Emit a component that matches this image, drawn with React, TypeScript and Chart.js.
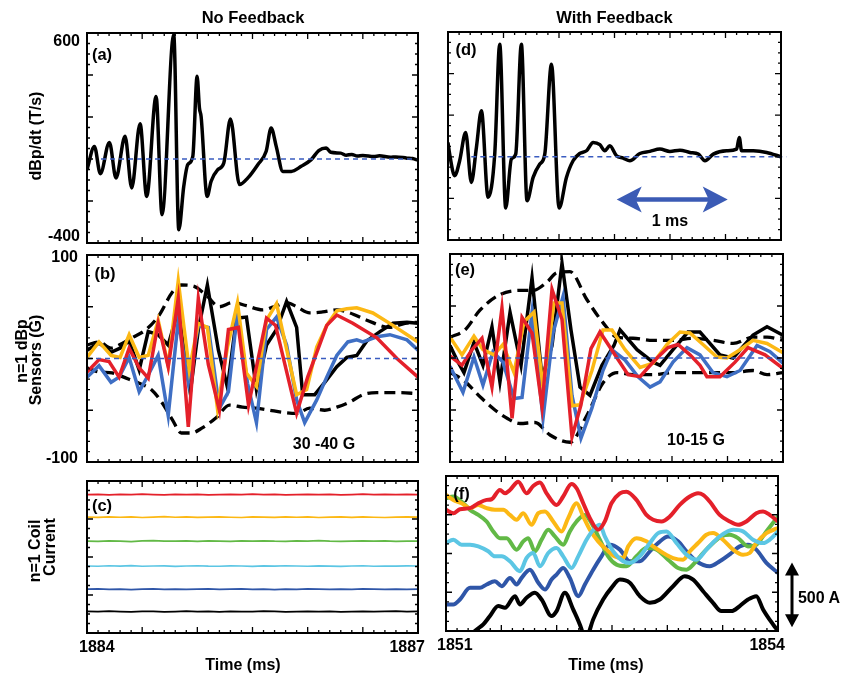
import React, { useEffect, useRef } from 'react';
import { Chart, registerables } from 'chart.js';

Chart.register(...registerables);

const W = 842;
const H = 679;
const FONT = '"Liberation Sans", Arial, Helvetica, sans-serif';

const RED = '#e4202a';
const YELLOW = '#fcb814';
const BLUE = '#3f6fc4';
const GREEN = '#62b946';
const CYAN = '#5cc6e4';
const DKBLUE = '#2f56a8';
const ZERO_BLUE = '#3a5cc0';
const ARROW_BLUE = '#3b5bb5';

// ---------- Tick labels ----------
const LEFT_TIME_TICKS = ['1884', '1887'];
const RIGHT_TIME_TICKS = ['1851', '1854'];
const DBDT_TICKS = ['600', '-400'];
const SENSOR_TICKS = ['100', '-100'];

// ---------- Panel (a): dBp/dt, no feedback ----------
const A_T = [1884.000, 1884.067, 1884.121, 1884.203, 1884.263, 1884.345, 1884.405, 1884.481, 1884.541, 1884.626, 1884.680, 1884.786, 1884.832, 1884.877, 1884.913, 1884.959, 1884.998, 1885.019, 1885.034, 1885.089, 1885.125, 1885.185, 1885.240, 1885.300, 1885.382, 1885.458, 1885.548, 1885.624, 1885.669, 1885.715, 1885.775, 1885.851, 1885.941, 1886.032, 1886.100, 1886.168, 1886.210, 1886.300, 1886.350, 1886.400, 1886.450, 1886.500, 1886.600, 1886.650, 1886.750, 1886.800, 1886.900, 1886.950, 1887.000];
const A_V = [-51, 60, -70, 79, -90, 108, -138, 168, -178, 298, -265, 592, -337, -130, -27, 13, 394, 243, 203, -178, -106, -51, -19, 190, -122, -90, -27, 37, 148, 60, -59, -59, -35, -3, 40, 52, 32, 28, 18, 22, 14, 17, 12, 15, 8, 10, 4, 2, -6];

// ---------- Panel (d): dBp/dt, with feedback ----------
const D_T = [1851.000, 1851.015, 1851.060, 1851.105, 1851.159, 1851.210, 1851.256, 1851.301, 1851.361, 1851.421, 1851.466, 1851.520, 1851.571, 1851.610, 1851.661, 1851.712, 1851.767, 1851.827, 1851.872, 1851.932, 1852.001, 1852.067, 1852.127, 1852.187, 1852.248, 1852.308, 1852.368, 1852.413, 1852.458, 1852.518, 1852.578, 1852.638, 1852.728, 1852.819, 1852.909, 1852.999, 1853.089, 1853.179, 1853.255, 1853.315, 1853.390, 1853.510, 1853.600, 1853.624, 1853.645, 1853.751, 1853.871, 1854.000];
const D_V = [69, 13, -91, -19, 117, -123, 45, 221, -195, 13, 541, -246, -11, 13, 541, -211, -99, -35, 13, 445, -246, -99, -19, 16, 29, 69, 58, 29, 53, 5, -6, -19, 16, 26, 37, 26, 32, 21, 13, -19, 13, 29, 37, 93, 29, 29, 21, 0];
const MS_ARROW_T = [1852.52, 1853.52];
const MS_ARROW_V = -205;

// ---------- Panel (b): sensors, no feedback ----------
const B_RED_T = [1884.000, 1884.109, 1884.200, 1884.291, 1884.382, 1884.473, 1884.555, 1884.645, 1884.736, 1884.827, 1884.918, 1885.009, 1885.100, 1885.200, 1885.282, 1885.373, 1885.464, 1885.627, 1885.709, 1885.900, 1886.000, 1886.173, 1886.264, 1886.409, 1886.627, 1886.809, 1887.000];
const B_RED_V = [-13, -1, -3, -18, 10, -9, -19, 34, -8, 58, -66, 58, -6, -50, 28, 30, -45, 39, 32, -53, -18, 32, 42, 34, 20, 0, -18];
const B_YEL_T = [1884.000, 1884.109, 1884.218, 1884.300, 1884.382, 1884.473, 1884.555, 1884.645, 1884.736, 1884.827, 1884.927, 1885.009, 1885.091, 1885.182, 1885.273, 1885.364, 1885.445, 1885.536, 1885.627, 1885.718, 1885.900, 1885.991, 1886.082, 1886.173, 1886.264, 1886.355, 1886.445, 1886.591, 1886.773, 1887.000];
const B_YEL_V = [1, 16, 3, 1, 23, 1, 3, 37, -7, 75, -11, 34, 30, -48, 11, 54, -14, -27, 37, 53, -35, -30, 11, 32, 46, 48, 49, 44, 32, 16];
const B_BLK_T = [1884.000, 1884.109, 1884.218, 1884.300, 1884.382, 1884.473, 1884.555, 1884.645, 1884.736, 1884.827, 1884.936, 1885.009, 1885.091, 1885.191, 1885.273, 1885.355, 1885.445, 1885.536, 1885.627, 1885.718, 1885.809, 1885.900, 1885.955, 1886.064, 1886.155, 1886.264, 1886.355, 1886.445, 1886.536, 1886.655, 1886.773, 1886.900, 1887.000];
const B_BLK_V = [8, 15, 6, 10, 17, -11, 26, 23, 13, 47, -33, 28, 71, 8, -28, 39, 40, -30, 13, 28, 55, 30, -35, -35, -23, -8, 1, 3, 17, 26, 34, 35, 34];
const B_BLU_T = [1884.000, 1884.109, 1884.218, 1884.291, 1884.382, 1884.473, 1884.555, 1884.645, 1884.736, 1884.827, 1884.918, 1885.009, 1885.100, 1885.200, 1885.282, 1885.364, 1885.455, 1885.536, 1885.627, 1885.718, 1885.809, 1885.900, 1885.973, 1886.082, 1886.173, 1886.264, 1886.364, 1886.445, 1886.500, 1886.627, 1886.745, 1886.900, 1887.000];
const B_BLU_V = [-18, -7, -23, -18, 1, -32, -16, 3, -55, 37, -23, 32, 30, -48, -32, 45, -24, -62, 28, 40, 13, -40, -62, -40, -18, 3, 16, 18, 16, 21, 23, 18, 8];
const B_UP_T = [1884.000, 1884.109, 1884.218, 1884.291, 1884.409, 1884.536, 1884.655, 1884.773, 1884.855, 1884.964, 1885.082, 1885.200, 1885.318, 1885.445, 1885.591, 1885.718, 1885.809, 1885.900, 1886.018, 1886.136, 1886.264, 1886.382, 1886.536, 1886.745, 1886.882, 1887.000];
const B_UP_V = [13, 16, 10, 13, 20, 28, 42, 64, 71, 70, 61, 50, 54, 51, 47, 51, 54, 50, 44, 45, 47, 44, 37, 30, 34, 35];
const B_LO_T = [1884.000, 1884.109, 1884.227, 1884.355, 1884.473, 1884.582, 1884.682, 1884.773, 1884.855, 1884.945, 1885.045, 1885.173, 1885.291, 1885.409, 1885.536, 1885.655, 1885.773, 1885.900, 1886.018, 1886.155, 1886.264, 1886.382, 1886.500, 1886.627, 1886.836, 1887.000];
const B_LO_V = [-9, -13, -14, -19, -24, -30, -43, -59, -72, -72, -67, -57, -45, -47, -48, -50, -52, -53, -48, -50, -47, -42, -35, -33, -33, -34];

// ---------- Panel (e): sensors, with feedback ----------
const E_BLK_T = [1851.000, 1851.063, 1851.126, 1851.216, 1851.297, 1851.378, 1851.450, 1851.541, 1851.640, 1851.739, 1851.829, 1851.919, 1852.009, 1852.090, 1852.171, 1852.261, 1852.369, 1852.477, 1852.532, 1852.685, 1852.829, 1852.892, 1853.009, 1853.144, 1853.252, 1853.432, 1853.550, 1853.730, 1853.856, 1854.000];
const E_BLK_V = [12, -2, -14, 15, -7, 30, -23, 44, -7, 77, -19, 12, 91, 27, -28, -36, -7, 12, 27, 8, -4, -7, 8, 25, 25, 3, 0, 22, 30, 22];
const E_UP_T = [1851.000, 1851.135, 1851.270, 1851.450, 1851.631, 1851.748, 1851.874, 1851.964, 1852.081, 1852.234, 1852.378, 1852.505, 1852.649, 1852.829, 1853.009, 1853.189, 1853.369, 1853.550, 1853.730, 1853.856, 1854.000];
const E_UP_V = [20, 27, 46, 61, 65, 65, 73, 82, 83, 56, 34, 20, 19, 17, 17, 19, 17, 14, 20, 20, 17];
const E_LO_T = [1851.000, 1851.117, 1851.288, 1851.405, 1851.514, 1851.631, 1851.766, 1851.901, 1852.081, 1852.234, 1852.378, 1852.505, 1852.649, 1852.829, 1853.009, 1853.189, 1853.369, 1853.550, 1853.730, 1853.856, 1854.000];
const E_LO_V = [-14, -21, -39, -50, -58, -63, -62, -74, -81, -55, -24, -14, -16, -16, -14, -14, -14, -14, -12, -16, -14];
const E_YEL_T = [1851.000, 1851.108, 1851.216, 1851.297, 1851.396, 1851.477, 1851.577, 1851.667, 1851.757, 1851.838, 1851.937, 1852.009, 1852.099, 1852.171, 1852.279, 1852.378, 1852.459, 1852.577, 1852.712, 1852.829, 1852.955, 1853.072, 1853.162, 1853.279, 1853.405, 1853.495, 1853.613, 1853.730, 1853.856, 1854.000];
const E_YEL_V = [20, 3, 21, 8, 3, 13, -14, 35, 44, -28, 53, 53, -46, -45, -12, 27, 27, 8, -9, -5, 13, 25, 24, 13, 1, 0, 8, 17, 14, 5];
const E_RED_T = [1851.000, 1851.108, 1851.198, 1851.288, 1851.378, 1851.468, 1851.559, 1851.649, 1851.739, 1851.829, 1851.919, 1852.009, 1852.099, 1852.180, 1852.270, 1852.351, 1852.505, 1852.604, 1852.712, 1852.847, 1852.964, 1853.054, 1853.162, 1853.252, 1853.315, 1853.432, 1853.568, 1853.685, 1853.838, 1854.000];
const E_RED_V = [2, -7, 8, 19, -28, 48, -58, 39, 24, -47, 66, 37, -76, -45, 9, 25, 0, -16, -18, -2, 10, 13, 3, -7, -18, -18, -4, 10, 3, -10];
const E_BLU_T = [1851.000, 1851.117, 1851.216, 1851.297, 1851.387, 1851.477, 1851.577, 1851.649, 1851.739, 1851.838, 1851.928, 1852.018, 1852.099, 1852.180, 1852.279, 1852.378, 1852.459, 1852.577, 1852.694, 1852.802, 1852.892, 1853.009, 1853.135, 1853.252, 1853.369, 1853.495, 1853.613, 1853.766, 1853.883, 1854.000];
const E_BLU_V = [-8, -33, 1, -26, 6, -4, -39, -38, 44, -58, 24, 59, -36, -77, -48, -12, 8, -2, -18, -28, -23, -4, 10, 3, -14, -18, -12, 12, 6, -5];

// ---------- Panel (c): coil currents, no feedback (A, offset traces) ----------
const C_T = [1884.0, 1884.1, 1884.2, 1884.3, 1884.4, 1884.5, 1884.6, 1884.7, 1884.8, 1884.9, 1885.0, 1885.1, 1885.2, 1885.3, 1885.4, 1885.5, 1885.6, 1885.7, 1885.8, 1885.9, 1886.0, 1886.1, 1886.2, 1886.3, 1886.4, 1886.5, 1886.6, 1886.7, 1886.8, 1886.9, 1887.0];
const C_RED_V = [1093, 1095, 1090, 1094, 1092, 1096, 1093, 1091, 1095, 1093, 1094, 1090, 1092, 1095, 1093, 1097, 1092, 1094, 1091, 1093, 1095, 1092, 1094, 1090, 1093, 1096, 1092, 1094, 1093, 1095, 1093];
const C_YEL_V = [915, 913, 917, 914, 916, 912, 915, 918, 914, 916, 913, 915, 917, 914, 912, 916, 915, 913, 917, 914, 916, 912, 915, 917, 913, 916, 914, 912, 915, 917, 915];
const C_GRN_V = [726, 724, 728, 725, 722, 727, 729, 725, 726, 728, 724, 727, 725, 723, 727, 726, 728, 725, 724, 727, 726, 729, 725, 723, 726, 728, 725, 727, 724, 726, 726];
const C_CYN_V = [529, 527, 531, 528, 532, 527, 529, 530, 526, 529, 531, 528, 527, 530, 529, 526, 530, 528, 531, 529, 527, 530, 528, 526, 529, 531, 527, 529, 528, 530, 529];
const C_BLU_V = [346, 348, 344, 347, 343, 346, 349, 345, 347, 344, 346, 348, 345, 347, 349, 344, 346, 343, 347, 345, 348, 346, 344, 347, 345, 349, 346, 344, 347, 345, 346];
const C_BLK_V = [170, 168, 172, 169, 167, 171, 170, 166, 169, 172, 168, 170, 167, 171, 169, 168, 172, 170, 167, 169, 171, 168, 170, 166, 169, 171, 168, 170, 172, 169, 170];

// ---------- Panel (f): coil currents, with feedback ----------
const F_RED_T = [1851.000, 1851.066, 1851.126, 1851.217, 1851.292, 1851.367, 1851.412, 1851.487, 1851.533, 1851.578, 1851.653, 1851.728, 1851.788, 1851.849, 1851.909, 1851.999, 1852.059, 1852.134, 1852.180, 1852.240, 1852.300, 1852.375, 1852.435, 1852.495, 1852.571, 1852.631, 1852.721, 1852.811, 1852.872, 1852.947, 1853.022, 1853.112, 1853.203, 1853.278, 1853.323, 1853.383, 1853.473, 1853.564, 1853.639, 1853.714, 1853.804, 1853.865, 1853.925, 1854.000];
const F_RED_V = [938, 912, 943, 951, 989, 1015, 1020, 1092, 1066, 1092, 1156, 1066, 1123, 1149, 1066, 976, 1041, 1138, 1105, 989, 874, 784, 848, 989, 1066, 1079, 1015, 899, 861, 848, 886, 976, 1041, 1066, 1054, 1002, 899, 848, 822, 848, 912, 925, 899, 848];
const F_YEL_T = [1851.000, 1851.066, 1851.141, 1851.217, 1851.292, 1851.367, 1851.442, 1851.518, 1851.578, 1851.638, 1851.698, 1851.773, 1851.834, 1851.894, 1851.969, 1852.044, 1852.104, 1852.180, 1852.240, 1852.300, 1852.375, 1852.450, 1852.526, 1852.601, 1852.646, 1852.721, 1852.811, 1852.872, 1852.962, 1853.052, 1853.142, 1853.203, 1853.278, 1853.353, 1853.413, 1853.503, 1853.594, 1853.684, 1853.744, 1853.804, 1853.895, 1854.000];
const F_YEL_V = [1054, 1015, 989, 951, 976, 951, 938, 938, 899, 861, 912, 822, 912, 925, 848, 771, 874, 989, 886, 784, 694, 630, 578, 565, 655, 719, 694, 655, 604, 565, 552, 617, 681, 745, 758, 707, 630, 591, 604, 681, 758, 797];
const F_GRN_T = [1851.000, 1851.066, 1851.141, 1851.217, 1851.292, 1851.367, 1851.427, 1851.487, 1851.548, 1851.638, 1851.698, 1851.743, 1851.803, 1851.864, 1851.924, 1851.984, 1852.059, 1852.119, 1852.180, 1852.255, 1852.315, 1852.390, 1852.465, 1852.541, 1852.631, 1852.721, 1852.811, 1852.902, 1853.007, 1853.097, 1853.173, 1853.248, 1853.323, 1853.413, 1853.488, 1853.564, 1853.639, 1853.729, 1853.804, 1853.895, 1854.000];
const F_GRN_V = [1028, 1041, 1002, 938, 899, 848, 771, 719, 719, 630, 694, 719, 617, 707, 784, 732, 668, 771, 848, 899, 835, 707, 578, 514, 501, 578, 642, 630, 552, 488, 475, 527, 604, 681, 732, 745, 719, 655, 668, 771, 886];
const F_CYN_T = [1851.000, 1851.066, 1851.141, 1851.217, 1851.292, 1851.382, 1851.442, 1851.503, 1851.578, 1851.668, 1851.728, 1851.788, 1851.849, 1851.924, 1851.999, 1852.059, 1852.134, 1852.195, 1852.270, 1852.345, 1852.390, 1852.435, 1852.511, 1852.601, 1852.661, 1852.751, 1852.842, 1852.917, 1852.992, 1853.082, 1853.173, 1853.263, 1853.353, 1853.473, 1853.594, 1853.684, 1853.774, 1853.865, 1853.925, 1854.000];
const F_CYN_V = [681, 707, 668, 668, 655, 617, 578, 578, 540, 463, 565, 604, 501, 604, 642, 578, 488, 578, 707, 797, 822, 732, 617, 540, 527, 578, 681, 758, 771, 681, 591, 552, 630, 732, 784, 771, 707, 681, 707, 771];
const F_BLU_T = [1851.000, 1851.066, 1851.126, 1851.217, 1851.307, 1851.367, 1851.442, 1851.503, 1851.578, 1851.638, 1851.683, 1851.758, 1851.834, 1851.894, 1851.954, 1851.999, 1852.059, 1852.119, 1852.195, 1852.255, 1852.330, 1852.405, 1852.480, 1852.571, 1852.661, 1852.751, 1852.842, 1852.917, 1853.007, 1853.097, 1853.173, 1853.263, 1853.383, 1853.473, 1853.579, 1853.654, 1853.729, 1853.804, 1853.895, 1854.000];
const F_BLU_V = [206, 206, 244, 334, 334, 360, 385, 347, 411, 360, 411, 475, 373, 321, 398, 437, 488, 411, 270, 360, 475, 578, 668, 630, 540, 540, 617, 681, 732, 694, 617, 540, 501, 540, 604, 655, 668, 630, 527, 450];
const F_BLK_T = [1851.000, 1851.066, 1851.262, 1851.337, 1851.397, 1851.472, 1851.533, 1851.623, 1851.668, 1851.728, 1851.803, 1851.864, 1851.954, 1851.999, 1852.074, 1852.149, 1852.225, 1852.255, 1852.285, 1852.330, 1852.420, 1852.495, 1852.571, 1852.661, 1852.751, 1852.842, 1852.932, 1853.052, 1853.157, 1853.233, 1853.323, 1853.413, 1853.488, 1853.579, 1853.654, 1853.729, 1853.804, 1853.865, 1853.955, 1854.000];
const F_BLK_V = [-350, -218, 0, 51, 116, 193, 180, 270, 206, 257, 296, 244, 116, 154, 296, 167, 13, -77, -26, 90, 244, 334, 398, 373, 270, 218, 244, 347, 424, 398, 308, 218, 154, 154, 193, 244, 270, 167, 51, 0];
const AMP_ARROW = [30, 530];

// ---------- helpers ----------
const line = (T: number[], V: number[], color: string, width: number, extra: any = {}) => ({
  data: T.map((x, i) => ({ x, y: V[i] })),
  borderColor: color,
  backgroundColor: color,
  borderWidth: width,
  pointRadius: 0,
  fill: false,
  tension: 0,
  ...extra,
});
const smooth = { cubicInterpolationMode: 'monotone', capBezierPoints: false };
const dashed = { borderDash: [11, 6] };
const zero = (x0: number, x1: number) =>
  line([x0, x1], [0, 0], ZERO_BLUE, 1.5, { borderDash: [5, 4], clip: false });

type Cfg = {
  box: [number, number, number, number];
  x: [number, number];
  y: [number, number];
  xMinor: number;
  xEvery: number;
  yMinor: number;
  yEvery: number;
  datasets: any[];
  yLabels?: { text: string; value: number; dy: number }[];
  yGap?: number;
  xLabels?: { text: string; value: number; align: 'left' | 'right'; dx: number }[];
  extra?: (chart: any) => void;
};

function framePlugin(cfg: Cfg) {
  return {
    id: 'frame',
    afterDatasetsDraw(chart: any) {
      const { ctx, chartArea: a, scales } = chart;
      const xs = scales.x;
      const ys = scales.y;
      ctx.save();
      ctx.strokeStyle = '#000';
      ctx.lineWidth = 1.3;
      ctx.beginPath();
      const nx = Math.round((cfg.x[1] - cfg.x[0]) / cfg.xMinor);
      for (let i = 1; i < nx; i++) {
        const px = xs.getPixelForValue(cfg.x[0] + i * cfg.xMinor);
        const len = i % cfg.xEvery === 0 ? 6 : 3;
        ctx.moveTo(px, a.bottom);
        ctx.lineTo(px, a.bottom - len);
        ctx.moveTo(px, a.top);
        ctx.lineTo(px, a.top + len);
      }
      const ny = Math.round((cfg.y[1] - cfg.y[0]) / cfg.yMinor);
      for (let i = 1; i < ny; i++) {
        const py = ys.getPixelForValue(cfg.y[0] + i * cfg.yMinor);
        const len = i % cfg.yEvery === 0 ? 6 : 3;
        ctx.moveTo(a.left, py);
        ctx.lineTo(a.left + len, py);
        ctx.moveTo(a.right, py);
        ctx.lineTo(a.right - len, py);
      }
      ctx.stroke();
      ctx.lineWidth = 2;
      ctx.strokeRect(a.left, a.top, a.right - a.left, a.bottom - a.top);

      ctx.fillStyle = '#000';
      ctx.font = `bold 16px ${FONT}`;
      ctx.textBaseline = 'middle';
      if (cfg.yLabels) {
        ctx.textAlign = 'right';
        for (const l of cfg.yLabels) {
          ctx.fillText(l.text, a.left - (cfg.yGap ?? 7), ys.getPixelForValue(l.value) + l.dy);
        }
      }
      if (cfg.xLabels) {
        for (const l of cfg.xLabels) {
          ctx.textAlign = l.align;
          ctx.fillText(l.text, xs.getPixelForValue(l.value) + l.dx, a.bottom + 15);
        }
      }
      if (cfg.extra) cfg.extra(chart);
      ctx.restore();
    },
  };
}

function msArrow(chart: any) {
  const { ctx, scales } = chart;
  const x0 = scales.x.getPixelForValue(MS_ARROW_T[0]);
  const x1 = scales.x.getPixelForValue(MS_ARROW_T[1]);
  const y = scales.y.getPixelForValue(MS_ARROW_V);
  ctx.strokeStyle = ARROW_BLUE;
  ctx.fillStyle = ARROW_BLUE;
  ctx.lineWidth = 4.5;
  ctx.beginPath();
  ctx.moveTo(x0 + 18, y);
  ctx.lineTo(x1 - 18, y);
  ctx.stroke();
  ctx.beginPath();
  ctx.moveTo(x0, y);
  ctx.lineTo(x0 + 25, y - 13);
  ctx.lineTo(x0 + 19, y);
  ctx.lineTo(x0 + 25, y + 13);
  ctx.closePath();
  ctx.moveTo(x1, y);
  ctx.lineTo(x1 - 25, y - 13);
  ctx.lineTo(x1 - 19, y);
  ctx.lineTo(x1 - 25, y + 13);
  ctx.closePath();
  ctx.fill();
}

function ampArrow(chart: any) {
  const { ctx, scales, chartArea } = chart;
  const x = chartArea.right + 14;
  const yTop = scales.y.getPixelForValue(AMP_ARROW[1]);
  const yBot = scales.y.getPixelForValue(AMP_ARROW[0]);
  ctx.strokeStyle = '#000';
  ctx.fillStyle = '#000';
  ctx.lineWidth = 3;
  ctx.beginPath();
  ctx.moveTo(x, yTop + 10);
  ctx.lineTo(x, yBot - 10);
  ctx.stroke();
  ctx.beginPath();
  ctx.moveTo(x, yTop);
  ctx.lineTo(x - 7, yTop + 13);
  ctx.lineTo(x + 7, yTop + 13);
  ctx.closePath();
  ctx.moveTo(x, yBot);
  ctx.lineTo(x - 7, yBot - 13);
  ctx.lineTo(x + 7, yBot - 13);
  ctx.closePath();
  ctx.fill();
}

const leftX: [number, number] = [1884, 1887];
const rightX: [number, number] = [1851, 1854];

const PANELS: Cfg[] = [
  {
    box: [87, 33, 418, 243], x: leftX, y: [-400, 600], xMinor: 0.1, xEvery: 5, yMinor: 50, yEvery: 4,
    datasets: [zero(1884.127, 1887), line(A_T, A_V, '#000', 3.5, smooth)],
    yLabels: [{ text: DBDT_TICKS[0], value: 600, dy: 8.5 }, { text: DBDT_TICKS[1], value: -400, dy: -6.5 }],
  },
  {
    box: [87, 255, 418, 462], x: leftX, y: [-100, 100], xMinor: 0.1, xEvery: 5, yMinor: 10, yEvery: 5,
    datasets: [
      zero(1884, 1887),
      line(B_RED_T, B_RED_V, RED, 3.5),
      line(B_YEL_T, B_YEL_V, YELLOW, 3.5),
      line(B_BLU_T, B_BLU_V, BLUE, 3.5),
      line(B_BLK_T, B_BLK_V, '#000', 3.5),
      line(B_UP_T, B_UP_V, '#000', 3.3, { ...dashed, ...smooth }),
      line(B_LO_T, B_LO_V, '#000', 3.3, { ...dashed, ...smooth }),
    ],
    yLabels: [{ text: SENSOR_TICKS[0], value: 100, dy: 2.5 }, { text: SENSOR_TICKS[1], value: -100, dy: -3.5 }],
    yGap: 9,
  },
  {
    box: [87, 481, 418, 633], x: leftX, y: [0, 1200], xMinor: 0.1, xEvery: 5, yMinor: 75, yEvery: 4,
    datasets: [
      line(C_T, C_RED_V, RED, 1.7),
      line(C_T, C_YEL_V, YELLOW, 1.7),
      line(C_T, C_GRN_V, GREEN, 1.7),
      line(C_T, C_CYN_V, CYAN, 1.7),
      line(C_T, C_BLU_V, DKBLUE, 1.7),
      line(C_T, C_BLK_V, '#000', 1.7),
    ],
    xLabels: [
      { text: LEFT_TIME_TICKS[0], value: 1884, align: 'left', dx: -8 },
      { text: LEFT_TIME_TICKS[1], value: 1887, align: 'right', dx: 7 },
    ],
  },
  {
    box: [448, 32, 781, 240], x: rightX, y: [-400, 600], xMinor: 0.1, xEvery: 5, yMinor: 50, yEvery: 4,
    datasets: [zero(1851.21, 1854.05), line(D_T, D_V, '#000', 3.5, smooth)],
    extra: msArrow,
  },
  {
    box: [450, 254, 783, 462], x: rightX, y: [-100, 100], xMinor: 0.1, xEvery: 5, yMinor: 10, yEvery: 5,
    datasets: [
      zero(1851.02, 1854),
      line(E_RED_T, E_RED_V, RED, 3.5),
      line(E_YEL_T, E_YEL_V, YELLOW, 3.5),
      line(E_BLU_T, E_BLU_V, BLUE, 3.5),
      line(E_BLK_T, E_BLK_V, '#000', 3.5),
      line(E_UP_T, E_UP_V, '#000', 3.3, { ...dashed, ...smooth }),
      line(E_LO_T, E_LO_V, '#000', 3.3, { ...dashed, ...smooth }),
    ],
  },
  {
    box: [446, 476, 778, 631], x: rightX, y: [0, 1200], xMinor: 0.1, xEvery: 5, yMinor: 75, yEvery: 4,
    datasets: [
      line(F_RED_T, F_RED_V, RED, 4, smooth),
      line(F_CYN_T, F_CYN_V, CYAN, 4, smooth),
      line(F_YEL_T, F_YEL_V, YELLOW, 4, smooth),
      line(F_GRN_T, F_GRN_V, GREEN, 4, smooth),
      line(F_BLU_T, F_BLU_V, DKBLUE, 4, smooth),
      line(F_BLK_T, F_BLK_V, '#000', 4, smooth),
    ],
    xLabels: [
      { text: RIGHT_TIME_TICKS[0], value: 1851, align: 'left', dx: -9 },
      { text: RIGHT_TIME_TICKS[1], value: 1854, align: 'right', dx: 7 },
    ],
    extra: ampArrow,
  },
];

function Panel({ cfg }: { cfg: Cfg }) {
  const ref = useRef<HTMLCanvasElement>(null);
  useEffect(() => {
    const [L, T, R, B] = cfg.box;
    const chart = new Chart(ref.current as HTMLCanvasElement, {
      type: 'line',
      data: { datasets: cfg.datasets },
      options: {
        animation: false,
        responsive: false,
        maintainAspectRatio: false,
        devicePixelRatio: 1,
        events: [],
        layout: { padding: { left: L, top: T, right: W - R, bottom: H - B } },
        plugins: { legend: { display: false }, tooltip: { enabled: false } },
        scales: {
          x: { type: 'linear', min: cfg.x[0], max: cfg.x[1], display: false },
          y: { type: 'linear', min: cfg.y[0], max: cfg.y[1], display: false },
        },
      },
      plugins: [framePlugin(cfg)],
    } as any);
    return () => chart.destroy();
  }, [cfg]);
  return <canvas ref={ref} width={W} height={H} style={{ position: 'absolute', left: 0, top: 0 }} />;
}

function Txt({ x, y, children, size = 16, rotate = false }: { x: number; y: number; children: any; size?: number; rotate?: boolean }) {
  return (
    <div
      style={{
        position: 'absolute',
        left: x,
        top: y,
        fontSize: size,
        lineHeight: `${size}px`,
        whiteSpace: 'nowrap',
        transform: `translate(-50%, -50%)${rotate ? ' rotate(-90deg)' : ''}`,
      }}
    >
      {children}
    </div>
  );
}

export default function App() {
  return (
    <div
      style={{
        position: 'absolute',
        left: 0,
        top: 0,
        width: W,
        height: H,
        background: '#fff',
        fontFamily: FONT,
        fontWeight: 'bold',
        color: '#000',
        overflow: 'hidden',
      }}
    >
      {PANELS.map((p, i) => (
        <Panel key={i} cfg={p} />
      ))}
      <Txt x={253} y={16.5} size={16.5}>No Feedback</Txt>
      <Txt x={614.5} y={16.5} size={16.5}>With Feedback</Txt>
      <Txt x={36} y={136} rotate>dBp/dt (T/s)</Txt>
      <Txt x={22} y={351} rotate>n=1 dBp</Txt>
      <Txt x={36} y={360} rotate>Sensors (G)</Txt>
      <Txt x={35} y={551} rotate>n=1 Coil</Txt>
      <Txt x={50} y={547} rotate>Current</Txt>
      <Txt x={102} y={53.5} size={16.5}>(a)</Txt>
      <Txt x={105} y={272.5} size={16.5}>(b)</Txt>
      <Txt x={102} y={505} size={16.5}>(c)</Txt>
      <Txt x={466} y={49} size={16.5}>(d)</Txt>
      <Txt x={465} y={268.5} size={16.5}>(e)</Txt>
      <Txt x={461.5} y={492.5} size={16.5}>(f)</Txt>
      <Txt x={324} y={444}>30 -40 G</Txt>
      <Txt x={696} y={440}>10-15 G</Txt>
      <Txt x={670} y={221}>1 ms</Txt>
      <Txt x={819} y={598}>500 A</Txt>
      <Txt x={243} y={665}>Time (ms)</Txt>
      <Txt x={606} y={665}>Time (ms)</Txt>
    </div>
  );
}
